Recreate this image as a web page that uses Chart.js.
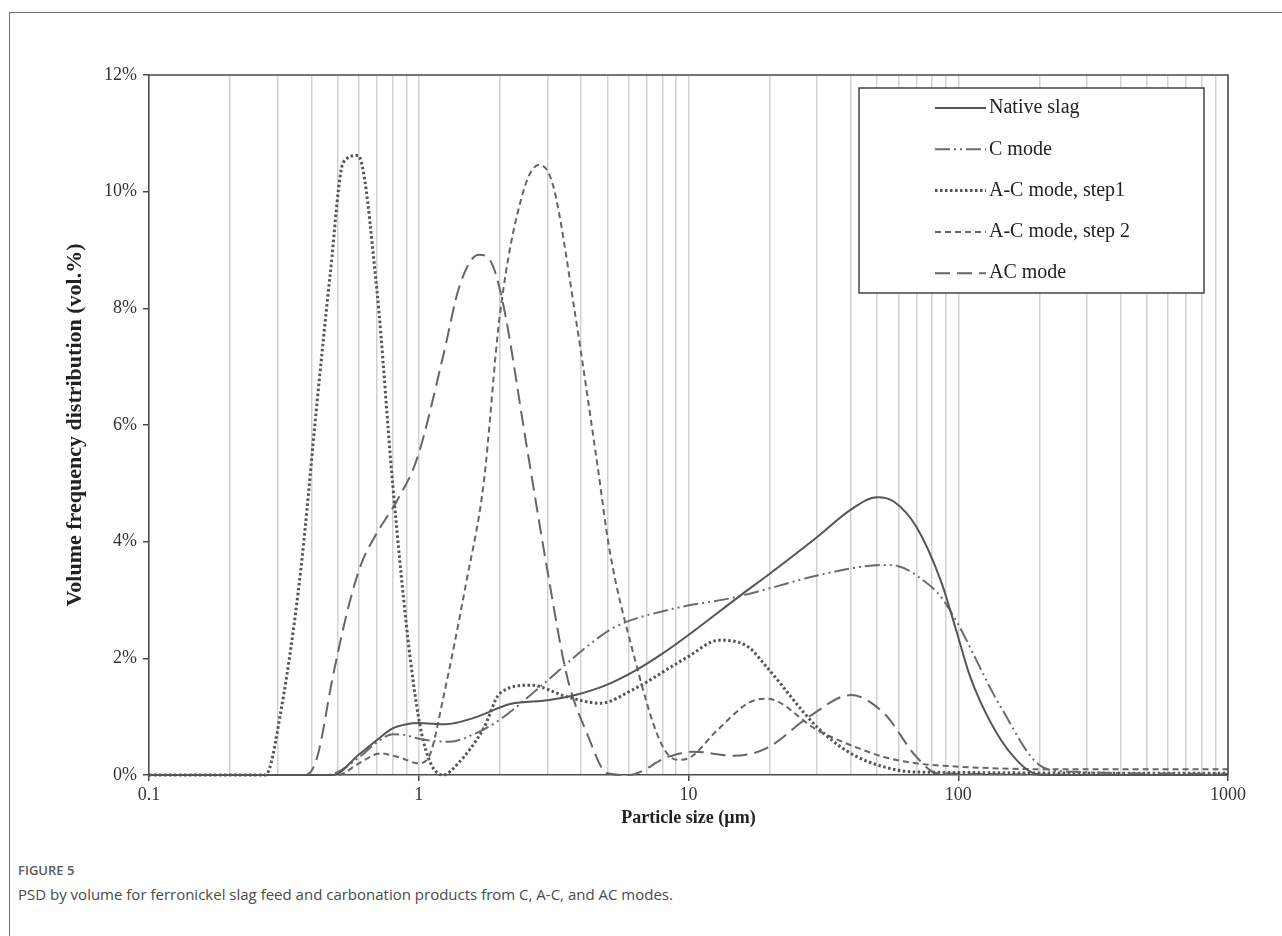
<!DOCTYPE html>
<html>
<head>
<meta charset="utf-8">
<script src="https://cdn.jsdelivr.net/npm/chart.js@4.4.1/dist/chart.umd.min.js"></script>
<style>
  html, body { margin:0; padding:0; background:#fff; }
  body { width:1282px; height:936px; position:relative; overflow:hidden; }
  #frame { position:absolute; left:9px; top:12px; right:-10px; bottom:-10px;
           border-top:1px solid #6e6e6e; border-left:1px solid #6e6e6e; }
  #chart { position:absolute; left:0; top:0; }
  .fig-label { position:absolute; left:18px; top:861px; font:600 13px "Open Sans", sans-serif; color:#5a5a5a; }
  .fig-caption { position:absolute; left:18px; top:884px; font:15px "Open Sans", sans-serif; color:#4a4a4a; }
</style>
</head>
<body>
<div id="frame"></div>
<canvas id="chart" width="1282" height="850"></canvas>
<div class="fig-label">FIGURE 5</div>
<div class="fig-caption">PSD by volume for ferronickel slag feed and carbonation products from C, A-C, and AC modes.</div>

<script>
// ═══════════════════════════════════════════════════════════════
//  DATA  — particle size (µm) / volume frequency (%)
// ═══════════════════════════════════════════════════════════════

const NATIVE_X = [0.1, 0.4, 0.48, 0.6, 0.7, 0.8, 0.9, 1.0, 1.26, 1.6, 2.2, 3, 3.8, 5, 6.3, 8, 10, 15.6, 20, 30, 40, 50, 58, 70, 86, 98, 110, 121, 144, 165, 186, 210, 1000];
const NATIVE_Y = [0,   0,   0,    0.35, 0.6, 0.8, 0.87, 0.89, 0.87, 0.98, 1.22, 1.28, 1.37, 1.55, 1.78, 2.08, 2.4, 3.08, 3.45, 4.08, 4.55, 4.76, 4.68, 4.25, 3.34, 2.5, 1.72, 1.25, 0.6, 0.25, 0.05, 0, 0];

const CMODE_X = [0.1, 0.45, 0.5, 0.6, 0.7, 0.8, 0.9, 1.0, 1.3, 1.6, 2, 2.8, 4.2, 5.3, 8.4, 15, 20, 30, 53, 60, 70, 88, 144, 200, 250, 1000];
const CMODE_Y = [0,   0,    0.05, 0.3, 0.56, 0.7, 0.68, 0.62, 0.57, 0.7, 0.95, 1.5, 2.2, 2.53, 2.83, 3.05, 3.2, 3.42, 3.6, 3.58, 3.42, 3.0, 1.16, 0.17, 0.06, 0.02];

const STEP1_X = [0.1, 0.27, 0.31, 0.365, 0.42, 0.47, 0.525, 0.595, 0.7, 0.8, 0.93, 1.04, 1.23, 1.4, 1.74, 2.0, 2.6, 3.55, 4.7, 6.2, 9.9, 13, 16.6, 19.5, 30, 40, 53, 70, 1000];
const STEP1_Y = [0,   0,    1.16, 3.5,   6.4,  8.6,  10.5,  10.62, 8.3, 5.0, 2.0, 0.58, 0,   0.2, 0.8,  1.4, 1.54, 1.34, 1.23, 1.46, 2.02, 2.31, 2.2, 1.85, 0.82, 0.37, 0.14, 0.05, 0.03];

const STEP2_X = [0.1, 0.5, 0.6, 0.72, 0.85, 1.0, 1.1, 1.23, 1.5, 1.74, 2.0, 2.44, 2.8, 3.15, 3.8, 4.6, 5.1, 6.2, 7.9, 9.1, 9.9, 12.8, 16.6, 19.5, 30, 40, 53, 70, 94, 200, 1000];
const STEP2_Y = [0,   0,   0.2, 0.37, 0.3,  0.2, 0.35, 1.3, 3.3, 5.0,  7.9, 10.0, 10.46, 10.1, 7.9, 5.3, 3.85, 2.14, 0.55, 0.26, 0.28, 0.77, 1.23, 1.31, 0.77, 0.51, 0.31, 0.2, 0.15, 0.1, 0.1];

const AC_X = [0.1, 0.38, 0.42, 0.48, 0.55, 0.61, 0.7, 0.83, 0.99, 1.23, 1.42, 1.67, 1.84, 2.05, 2.5, 3.0, 3.55, 4.2, 5.0, 6.0, 8.4, 10.4, 14.7, 19.5, 28, 40, 53, 70, 84, 1000];
const AC_Y = [0,   0,    0.3,  1.68, 2.9,  3.6,  4.15, 4.7,  5.45, 7.17, 8.4,  8.92, 8.82, 8.1,  5.7, 3.5, 1.68, 0.72, 0.03, 0,  0.31, 0.4, 0.33, 0.46, 1.0, 1.37, 1.06, 0.31, 0.03, 0];

const SERIES_NAMES = ['Native slag', 'C mode', 'A-C mode, step1', 'A-C mode, step 2', 'AC mode'];
const DECADES      = [0.1, 1, 10, 100, 1000];
const Y_TICKS      = [0, 2, 4, 6, 8, 10, 12];

// grid lines at 1..9 × each decade
const X_GRID = [];
DECADES.slice(0, -1).forEach(d => { for (let k = 1; k < 10; k++) X_GRID.push(+(d * k).toPrecision(3)); });
X_GRID.push(1000);

// ═══════════════════════════════════════════════════════════════
//  STYLES
// ═══════════════════════════════════════════════════════════════

const SERIF     = '"Liberation Serif", "Times New Roman", serif';
const AXIS_DARK = '#4a4a4a';
const GRID_GREY = '#d2d2d2';

const pts = (xs, ys) => xs.map((x, i) => ({ x, y: ys[i] }));

const LINE_BASE = { pointRadius:0, borderWidth:2, cubicInterpolationMode:'monotone', fill:false, clip:4 };

const datasets = [
  { ...LINE_BASE, label:SERIES_NAMES[0], data:pts(NATIVE_X, NATIVE_Y), borderColor:'#555', borderDash:[] },
  { ...LINE_BASE, label:SERIES_NAMES[1], data:pts(CMODE_X, CMODE_Y),   borderColor:'#6c6c6c', borderDash:[15,4,2,4,2,4] },
  { ...LINE_BASE, label:SERIES_NAMES[2], data:pts(STEP1_X, STEP1_Y),   borderColor:'#555', borderWidth:3, borderDash:[2.5,2.5] },
  { ...LINE_BASE, label:SERIES_NAMES[3], data:pts(STEP2_X, STEP2_Y),   borderColor:'#666', borderDash:[6,4] },
  { ...LINE_BASE, label:SERIES_NAMES[4], data:pts(AC_X, AC_Y),         borderColor:'#666', borderDash:[15,7] },
];

// ── frame round the plot + boxed legend ───────────────────────
const plotFrame = {
  id: 'plotFrame',
  afterDraw(chart) {
    const { ctx, chartArea: a } = chart;
    ctx.save();
    ctx.strokeStyle = AXIS_DARK;
    ctx.lineWidth = 1.5;
    ctx.beginPath();
    ctx.moveTo(a.left, a.top); ctx.lineTo(a.right, a.top); ctx.lineTo(a.right, a.bottom);
    ctx.stroke();

    // legend box
    const box = { x: 859, y: 88, w: 345, h: 205 };
    ctx.fillStyle = '#fff';
    ctx.fillRect(box.x, box.y, box.w, box.h);
    ctx.strokeStyle = '#444';
    ctx.lineWidth = 1.5;
    ctx.strokeRect(box.x, box.y, box.w, box.h);

    ctx.font = '20px ' + SERIF;
    ctx.textBaseline = 'middle';
    chart.data.datasets.forEach((ds, i) => {
      const y = 108 + i * 41.3;
      ctx.strokeStyle = ds.borderColor;
      ctx.lineWidth = ds.borderWidth;
      ctx.setLineDash(ds.borderDash);
      ctx.beginPath(); ctx.moveTo(935, y); ctx.lineTo(986, y); ctx.stroke();
      ctx.setLineDash([]);
      ctx.fillStyle = '#222';
      ctx.fillText(ds.label, 989, y);
    });
    ctx.restore();
  }
};

new Chart(document.getElementById('chart'), {
  type: 'line',
  data: { datasets },
  plugins: [plotFrame],
  options: {
    responsive:false, animation:false, devicePixelRatio:1,
    layout: { padding: { left:50, right:54, top:75, bottom:5 } },
    plugins: { legend:{ display:false }, tooltip:{ enabled:false } },
    scales: {
      x: {
        type:'logarithmic', min:0.1, max:1000,
        afterBuildTicks: s => { s.ticks = X_GRID.map(v => ({ value:v })); },
        afterFit: s => { s.height = 70; },
        ticks: {
          autoSkip:false, maxRotation:0, padding:3, color:'#333',
          font:{ family:SERIF, size:18 },
          callback: v => DECADES.includes(v) ? String(v) : ''
        },
        grid: {
          color: GRID_GREY, lineWidth:1.5, tickLength:6,
          tickColor: c => DECADES.includes(c.tick && c.tick.value) ? AXIS_DARK : 'rgba(0,0,0,0)'
        },
        border: { color:AXIS_DARK, width:1.5 },
        title: { display:true, text:'Particle size (µm)', color:'#222',
                 font:{ family:SERIF, size:18, weight:'bold' }, padding:{ top:0, bottom:16 } }
      },
      y: {
        min:0, max:12,
        afterBuildTicks: s => { s.ticks = Y_TICKS.map(v => ({ value:v })); },
        afterFit: s => { s.width = 99; },
        ticks: { padding:6, color:'#333', font:{ family:SERIF, size:18 }, callback: v => v + '%' },
        grid: { drawOnChartArea:false, tickLength:6, tickColor:AXIS_DARK, lineWidth:1.5 },
        border: { color:AXIS_DARK, width:1.5 },
        title: { display:true, text:'Volume frequency distribution (vol.%)', color:'#222',
                 font:{ family:SERIF, size:22, weight:'bold' }, padding:{ top:12, bottom:0 } }
      }
    }
  }
});
</script>
</body>
</html>
